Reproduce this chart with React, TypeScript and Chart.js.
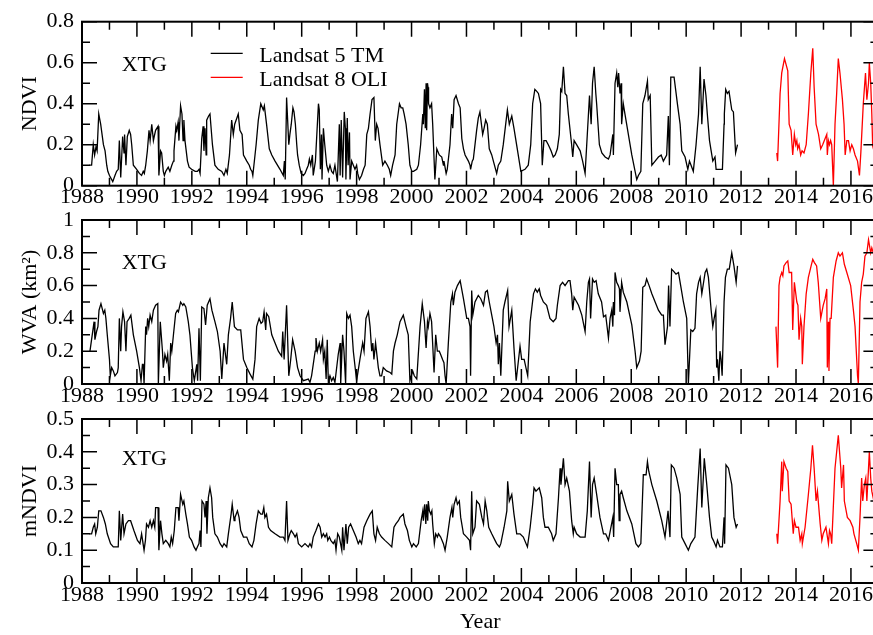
import React, { useEffect, useRef } from 'react';
import { Chart, registerables } from 'chart.js';

Chart.register(...registerables);

const YEAR_MIN = 1988;
const YEAR_MAX = 2017;
const FONT = "'Liberation Serif', 'Times New Roman', serif";
const TM_COLOR = '#000000';
const OLI_COLOR = '#ff0000';

// [decimal year, value] — Landsat 5 TM NDVI
const ndviTm: [number, number][] = [
  [1988.27, 0.10], [1988.35, 0.10], [1988.41, 0.20], [1988.46, 0.15], [1988.51, 0.19], [1988.55, 0.17],
  [1988.61, 0.35], [1988.68, 0.30], [1988.78, 0.20], [1988.84, 0.17], [1988.90, 0.10], [1988.94, 0.07],
  [1989.00, 0.05], [1989.12, 0.02], [1989.20, 0.05], [1989.26, 0.07], [1989.32, 0.08], [1989.36, 0.22],
  [1989.41, 0.04], [1989.48, 0.24], [1989.53, 0.16], [1989.55, 0.25], [1989.60, 0.10], [1989.65, 0.24],
  [1989.72, 0.27], [1989.77, 0.25], [1989.81, 0.20], [1989.87, 0.10], [1989.99, 0.08], [1990.09, 0.06],
  [1990.17, 0.05], [1990.23, 0.07], [1990.27, 0.06], [1990.32, 0.10], [1990.38, 0.17], [1990.44, 0.27],
  [1990.48, 0.22], [1990.54, 0.30], [1990.60, 0.22], [1990.63, 0.24], [1990.68, 0.27], [1990.77, 0.29],
  [1990.80, 0.05], [1990.86, 0.17], [1990.90, 0.16], [1990.96, 0.07], [1991.00, 0.05], [1991.05, 0.07],
  [1991.14, 0.09], [1991.20, 0.07], [1991.27, 0.10], [1991.33, 0.12], [1991.35, 0.17], [1991.42, 0.29],
  [1991.45, 0.27], [1991.50, 0.31], [1991.53, 0.22], [1991.59, 0.39], [1991.64, 0.35], [1991.68, 0.22],
  [1991.71, 0.32], [1991.75, 0.22], [1991.84, 0.12], [1991.90, 0.09], [1991.99, 0.08], [1992.12, 0.07],
  [1992.20, 0.07], [1992.26, 0.08], [1992.30, 0.06], [1992.36, 0.23], [1992.41, 0.29], [1992.44, 0.17],
  [1992.48, 0.28], [1992.52, 0.15], [1992.54, 0.32], [1992.61, 0.34], [1992.66, 0.35], [1992.75, 0.20],
  [1992.84, 0.10], [1992.96, 0.08], [1993.09, 0.07], [1993.17, 0.05], [1993.24, 0.08], [1993.29, 0.06],
  [1993.37, 0.15], [1993.45, 0.32], [1993.51, 0.25], [1993.56, 0.30], [1993.64, 0.33], [1993.69, 0.35],
  [1993.75, 0.27], [1993.83, 0.25], [1993.88, 0.15], [1994.00, 0.12], [1994.09, 0.10], [1994.14, 0.08],
  [1994.19, 0.07], [1994.22, 0.05], [1994.34, 0.20], [1994.42, 0.32], [1994.51, 0.40], [1994.57, 0.38],
  [1994.60, 0.37], [1994.64, 0.39], [1994.72, 0.30], [1994.82, 0.18], [1994.91, 0.15], [1995.03, 0.12],
  [1995.21, 0.08], [1995.33, 0.05], [1995.37, 0.12], [1995.40, 0.03], [1995.45, 0.43], [1995.53, 0.20],
  [1995.57, 0.25], [1995.62, 0.30], [1995.68, 0.38], [1995.72, 0.36], [1995.77, 0.30], [1995.82, 0.20],
  [1995.85, 0.15], [1995.91, 0.10], [1995.98, 0.06], [1996.06, 0.05], [1996.12, 0.06], [1996.18, 0.08],
  [1996.24, 0.10], [1996.28, 0.13], [1996.33, 0.10], [1996.39, 0.15], [1996.42, 0.05], [1996.50, 0.12],
  [1996.61, 0.40], [1996.64, 0.37], [1996.68, 0.08], [1996.72, 0.25], [1996.74, 0.03], [1996.79, 0.28],
  [1996.84, 0.20], [1996.91, 0.10], [1996.97, 0.07], [1997.03, 0.10], [1997.09, 0.07], [1997.15, 0.06],
  [1997.21, 0.10], [1997.30, 0.02], [1997.37, 0.30], [1997.40, 0.05], [1997.44, 0.32], [1997.49, 0.04],
  [1997.55, 0.36], [1997.59, 0.28], [1997.61, 0.03], [1997.66, 0.33], [1997.69, 0.10], [1997.74, 0.26],
  [1997.76, 0.03], [1997.82, 0.12], [1997.88, 0.10], [1997.94, 0.08], [1998.00, 0.10], [1998.04, 0.06],
  [1998.10, 0.03], [1998.18, 0.05], [1998.25, 0.08], [1998.31, 0.10], [1998.37, 0.25], [1998.43, 0.28],
  [1998.49, 0.35], [1998.56, 0.42], [1998.63, 0.43], [1998.68, 0.22], [1998.73, 0.30], [1998.78, 0.28],
  [1998.85, 0.20], [1998.95, 0.10], [1999.03, 0.12], [1999.12, 0.10], [1999.19, 0.08], [1999.24, 0.05],
  [1999.31, 0.10], [1999.40, 0.15], [1999.46, 0.30], [1999.56, 0.40], [1999.62, 0.38], [1999.68, 0.38],
  [1999.73, 0.35], [1999.80, 0.30], [1999.88, 0.20], [1999.94, 0.10], [2000.01, 0.07], [2000.07, 0.07],
  [2000.19, 0.08], [2000.25, 0.10], [2000.33, 0.20], [2000.41, 0.35], [2000.43, 0.30], [2000.47, 0.47],
  [2000.50, 0.28], [2000.53, 0.50], [2000.55, 0.27], [2000.58, 0.50], [2000.60, 0.48], [2000.62, 0.40],
  [2000.67, 0.38], [2000.73, 0.40], [2000.77, 0.30], [2000.85, 0.03], [2000.92, 0.18], [2001.01, 0.15],
  [2001.10, 0.14], [2001.16, 0.10], [2001.18, 0.12], [2001.26, 0.06], [2001.30, 0.08], [2001.40, 0.20],
  [2001.46, 0.35], [2001.50, 0.28], [2001.55, 0.42], [2001.62, 0.44], [2001.71, 0.40], [2001.77, 0.38],
  [2001.83, 0.23], [2001.89, 0.18], [2001.95, 0.15], [2002.07, 0.12], [2002.13, 0.10], [2002.15, 0.08],
  [2002.21, 0.12], [2002.25, 0.13], [2002.37, 0.27], [2002.43, 0.33], [2002.49, 0.36], [2002.59, 0.25],
  [2002.64, 0.28], [2002.70, 0.32], [2002.76, 0.30], [2002.83, 0.18], [2002.92, 0.15], [2002.98, 0.12],
  [2003.10, 0.06], [2003.16, 0.10], [2003.25, 0.12], [2003.34, 0.20], [2003.49, 0.37], [2003.56, 0.30],
  [2003.65, 0.34], [2003.73, 0.28], [2003.85, 0.18], [2003.98, 0.07], [2004.13, 0.08], [2004.25, 0.10],
  [2004.34, 0.20], [2004.41, 0.40], [2004.49, 0.47], [2004.56, 0.46], [2004.62, 0.45], [2004.70, 0.40],
  [2004.76, 0.10], [2004.82, 0.22], [2004.90, 0.22], [2004.98, 0.20], [2005.08, 0.17], [2005.16, 0.14],
  [2005.23, 0.15], [2005.31, 0.18], [2005.38, 0.25], [2005.43, 0.47], [2005.47, 0.46], [2005.53, 0.58],
  [2005.59, 0.45], [2005.65, 0.44], [2005.71, 0.35], [2005.83, 0.20], [2005.87, 0.14], [2005.92, 0.22],
  [2006.01, 0.20], [2006.14, 0.17], [2006.23, 0.12], [2006.32, 0.06], [2006.40, 0.25], [2006.48, 0.44],
  [2006.54, 0.30], [2006.59, 0.50], [2006.65, 0.58], [2006.71, 0.45], [2006.74, 0.40], [2006.84, 0.20],
  [2006.93, 0.16], [2007.05, 0.14], [2007.17, 0.13], [2007.23, 0.15], [2007.33, 0.25], [2007.35, 0.15],
  [2007.41, 0.50], [2007.47, 0.55], [2007.51, 0.48], [2007.54, 0.55], [2007.59, 0.45], [2007.63, 0.50],
  [2007.65, 0.30], [2007.71, 0.40], [2007.77, 0.35], [2008.02, 0.15], [2008.20, 0.03], [2008.26, 0.05],
  [2008.35, 0.07], [2008.42, 0.40], [2008.50, 0.44], [2008.59, 0.51], [2008.62, 0.42], [2008.69, 0.44],
  [2008.75, 0.10], [2008.87, 0.12], [2008.99, 0.14], [2009.09, 0.15], [2009.17, 0.12], [2009.29, 0.15],
  [2009.35, 0.34], [2009.39, 0.10], [2009.44, 0.53], [2009.56, 0.53], [2009.68, 0.40], [2009.78, 0.30],
  [2009.84, 0.17], [2009.96, 0.14], [2010.06, 0.08], [2010.12, 0.12], [2010.26, 0.07], [2010.36, 0.20],
  [2010.45, 0.35], [2010.51, 0.58], [2010.57, 0.30], [2010.65, 0.52], [2010.72, 0.44], [2010.77, 0.35],
  [2010.85, 0.22], [2010.91, 0.17], [2010.97, 0.12], [2011.05, 0.14], [2011.09, 0.08], [2011.23, 0.08],
  [2011.32, 0.08], [2011.38, 0.30], [2011.39, 0.35], [2011.44, 0.47], [2011.50, 0.45], [2011.56, 0.46],
  [2011.66, 0.37], [2011.72, 0.36], [2011.80, 0.16], [2011.87, 0.20],
];

// Landsat 8 OLI NDVI
const ndviOli: [number, number][] = [
  [2013.30, 0.16], [2013.33, 0.12], [2013.42, 0.45], [2013.48, 0.55], [2013.58, 0.62], [2013.70, 0.56],
  [2013.75, 0.30], [2013.82, 0.27], [2013.88, 0.15], [2013.94, 0.25], [2013.99, 0.20], [2014.03, 0.22],
  [2014.06, 0.18], [2014.11, 0.20], [2014.17, 0.15], [2014.22, 0.17], [2014.29, 0.16], [2014.37, 0.20],
  [2014.45, 0.35], [2014.54, 0.55], [2014.61, 0.67], [2014.66, 0.48], [2014.73, 0.30], [2014.82, 0.25],
  [2014.90, 0.18], [2014.97, 0.20], [2015.06, 0.23], [2015.12, 0.25], [2015.14, 0.15], [2015.18, 0.22],
  [2015.22, 0.20], [2015.26, 0.22], [2015.30, 0.20], [2015.36, 0.00], [2015.42, 0.30], [2015.48, 0.45],
  [2015.54, 0.62], [2015.60, 0.55], [2015.69, 0.42], [2015.75, 0.30], [2015.79, 0.15], [2015.85, 0.22],
  [2015.91, 0.22], [2015.97, 0.17], [2016.03, 0.20], [2016.09, 0.18], [2016.15, 0.15], [2016.24, 0.12],
  [2016.31, 0.05], [2016.36, 0.16], [2016.45, 0.40], [2016.53, 0.55], [2016.58, 0.42], [2016.64, 0.50],
  [2016.67, 0.60], [2016.72, 0.50], [2016.76, 0.35], [2016.79, 0.20], [2016.86, 0.24],
];

// Landsat 5 TM water-vegetation area (km²)
const wvaTm: [number, number][] = [
  [1988.29, 0.20], [1988.44, 0.38], [1988.47, 0.27], [1988.53, 0.32], [1988.58, 0.35], [1988.62, 0.45],
  [1988.69, 0.49], [1988.78, 0.43], [1988.83, 0.45], [1988.87, 0.40], [1988.92, 0.30], [1989.00, 0.15],
  [1989.03, 0.05], [1989.08, 0.10], [1989.14, 0.08], [1989.20, 0.05], [1989.29, 0.07], [1989.32, 0.10],
  [1989.36, 0.40], [1989.41, 0.20], [1989.44, 0.35], [1989.49, 0.44], [1989.55, 0.38], [1989.60, 0.20],
  [1989.64, 0.38], [1989.72, 0.40], [1989.78, 0.42], [1989.87, 0.30], [1989.99, 0.20], [1990.09, 0.10],
  [1990.15, 0.02], [1990.20, 0.12], [1990.23, 0.12], [1990.26, 0.00], [1990.32, 0.35], [1990.35, 0.30],
  [1990.39, 0.40], [1990.43, 0.35], [1990.48, 0.42], [1990.54, 0.38], [1990.60, 0.45], [1990.68, 0.48],
  [1990.76, 0.49], [1990.78, 0.00], [1990.85, 0.38], [1990.93, 0.20], [1990.96, 0.10], [1991.02, 0.18],
  [1991.08, 0.14], [1991.12, 0.18], [1991.18, 0.02], [1991.23, 0.25], [1991.27, 0.20], [1991.33, 0.30],
  [1991.41, 0.43], [1991.47, 0.45], [1991.51, 0.44], [1991.59, 0.50], [1991.67, 0.48], [1991.71, 0.49],
  [1991.78, 0.47], [1991.87, 0.38], [1991.93, 0.30], [1992.02, 0.10], [1992.09, 0.02], [1992.18, 0.12],
  [1992.21, 0.02], [1992.26, 0.34], [1992.31, 0.02], [1992.36, 0.47], [1992.44, 0.46], [1992.50, 0.36],
  [1992.56, 0.48], [1992.66, 0.52], [1992.73, 0.45], [1992.84, 0.38], [1992.93, 0.32], [1993.03, 0.20],
  [1993.09, 0.03], [1993.17, 0.25], [1993.27, 0.12], [1993.33, 0.30], [1993.41, 0.40], [1993.47, 0.50],
  [1993.55, 0.35], [1993.66, 0.33], [1993.78, 0.33], [1993.88, 0.15], [1994.00, 0.10], [1994.12, 0.06],
  [1994.22, 0.03], [1994.30, 0.15], [1994.36, 0.35], [1994.45, 0.40], [1994.52, 0.37], [1994.58, 0.38],
  [1994.63, 0.44], [1994.69, 0.33], [1994.72, 0.43], [1994.80, 0.41], [1994.91, 0.30], [1995.03, 0.25],
  [1995.15, 0.20], [1995.27, 0.17], [1995.31, 0.32], [1995.36, 0.15], [1995.45, 0.48], [1995.53, 0.05],
  [1995.60, 0.15], [1995.67, 0.27], [1995.76, 0.20], [1995.85, 0.10], [1995.94, 0.05], [1996.06, 0.02],
  [1996.24, 0.03], [1996.30, 0.01], [1996.36, 0.05], [1996.49, 0.20], [1996.52, 0.28], [1996.57, 0.20],
  [1996.64, 0.25], [1996.69, 0.20], [1996.76, 0.27], [1996.79, 0.15], [1996.84, 0.20], [1996.89, 0.03],
  [1996.93, 0.27], [1996.97, 0.01], [1997.03, 0.05], [1997.09, 0.02], [1997.15, 0.04], [1997.21, 0.01],
  [1997.33, 0.18], [1997.40, 0.25], [1997.42, 0.00], [1997.49, 0.30], [1997.54, 0.20], [1997.60, 0.00],
  [1997.64, 0.43], [1997.70, 0.40], [1997.76, 0.42], [1997.82, 0.35], [1997.88, 0.20], [1998.00, 0.02],
  [1998.12, 0.15], [1998.22, 0.25], [1998.27, 0.20], [1998.34, 0.40], [1998.43, 0.44], [1998.49, 0.35],
  [1998.55, 0.20], [1998.59, 0.25], [1998.63, 0.15], [1998.69, 0.25], [1998.79, 0.10], [1998.85, 0.05],
  [1998.91, 0.05], [1998.97, 0.10], [1999.09, 0.08], [1999.22, 0.07], [1999.28, 0.06], [1999.34, 0.20],
  [1999.40, 0.25], [1999.48, 0.30], [1999.58, 0.38], [1999.70, 0.42], [1999.80, 0.35], [1999.88, 0.30],
  [1999.94, 0.02], [2000.04, 0.08], [2000.10, 0.05], [2000.19, 0.03], [2000.31, 0.35], [2000.39, 0.49],
  [2000.47, 0.38], [2000.53, 0.22], [2000.58, 0.38], [2000.61, 0.35], [2000.67, 0.43], [2000.73, 0.38],
  [2000.82, 0.07], [2000.88, 0.30], [2000.94, 0.20], [2001.01, 0.20], [2001.06, 0.18], [2001.13, 0.15],
  [2001.18, 0.13], [2001.22, 0.05], [2001.26, 0.00], [2001.34, 0.25], [2001.43, 0.50], [2001.49, 0.55],
  [2001.52, 0.48], [2001.58, 0.56], [2001.67, 0.60], [2001.77, 0.63], [2001.89, 0.52], [2002.01, 0.40],
  [2002.07, 0.40], [2002.13, 0.35], [2002.15, 0.05], [2002.19, 0.57], [2002.23, 0.42], [2002.31, 0.50],
  [2002.43, 0.54], [2002.52, 0.52], [2002.62, 0.48], [2002.69, 0.56], [2002.76, 0.57], [2002.83, 0.50],
  [2002.92, 0.42], [2003.00, 0.35], [2003.08, 0.25], [2003.13, 0.30], [2003.16, 0.12], [2003.20, 0.25],
  [2003.25, 0.05], [2003.34, 0.45], [2003.40, 0.50], [2003.50, 0.57], [2003.55, 0.35], [2003.65, 0.45],
  [2003.73, 0.22], [2003.81, 0.02], [2003.95, 0.23], [2004.01, 0.15], [2004.10, 0.15], [2004.23, 0.05],
  [2004.32, 0.38], [2004.44, 0.55], [2004.51, 0.58], [2004.58, 0.56], [2004.65, 0.58], [2004.70, 0.54],
  [2004.80, 0.50], [2004.92, 0.48], [2005.04, 0.40], [2005.16, 0.38], [2005.26, 0.40], [2005.31, 0.48],
  [2005.41, 0.60], [2005.50, 0.62], [2005.59, 0.60], [2005.71, 0.63], [2005.77, 0.63], [2005.83, 0.55],
  [2005.87, 0.45], [2005.92, 0.53], [2006.08, 0.48], [2006.20, 0.42], [2006.32, 0.32], [2006.38, 0.50],
  [2006.44, 0.62], [2006.48, 0.64], [2006.52, 0.40], [2006.59, 0.64], [2006.65, 0.62], [2006.72, 0.63],
  [2006.80, 0.55], [2006.92, 0.50], [2006.99, 0.41], [2007.07, 0.42], [2007.17, 0.28], [2007.23, 0.40],
  [2007.29, 0.45], [2007.33, 0.35], [2007.35, 0.50], [2007.39, 0.42], [2007.41, 0.68], [2007.47, 0.62],
  [2007.53, 0.60], [2007.57, 0.58], [2007.59, 0.44], [2007.65, 0.62], [2007.71, 0.56], [2007.84, 0.50],
  [2008.02, 0.36], [2008.14, 0.20], [2008.20, 0.10], [2008.30, 0.14], [2008.36, 0.20], [2008.42, 0.59],
  [2008.50, 0.60], [2008.56, 0.64], [2008.65, 0.60], [2008.75, 0.55], [2008.87, 0.50], [2008.99, 0.45],
  [2009.11, 0.42], [2009.17, 0.42], [2009.23, 0.24], [2009.32, 0.35], [2009.36, 0.60], [2009.41, 0.35],
  [2009.47, 0.70], [2009.53, 0.69], [2009.63, 0.67], [2009.72, 0.68], [2009.80, 0.60], [2009.90, 0.50],
  [2010.02, 0.40], [2010.08, 0.00], [2010.17, 0.33], [2010.24, 0.32], [2010.32, 0.34], [2010.38, 0.55],
  [2010.45, 0.62], [2010.51, 0.65], [2010.57, 0.55], [2010.69, 0.68], [2010.75, 0.70], [2010.81, 0.65],
  [2010.87, 0.53], [2010.91, 0.45], [2010.97, 0.35], [2011.02, 0.40], [2011.08, 0.45], [2011.11, 0.10],
  [2011.14, 0.15], [2011.19, 0.02], [2011.23, 0.20], [2011.27, 0.15], [2011.31, 0.05], [2011.38, 0.50],
  [2011.43, 0.65], [2011.50, 0.70], [2011.57, 0.70], [2011.66, 0.80], [2011.74, 0.72], [2011.82, 0.62],
  [2011.87, 0.72],
];

// Landsat 8 OLI water-vegetation area (km²)
const wvaOli: [number, number][] = [
  [2013.27, 0.35], [2013.33, 0.10], [2013.38, 0.60], [2013.42, 0.65], [2013.48, 0.68], [2013.52, 0.66],
  [2013.56, 0.72], [2013.64, 0.74], [2013.70, 0.75], [2013.75, 0.68], [2013.84, 0.68], [2013.88, 0.33],
  [2013.94, 0.62], [2014.03, 0.50], [2014.07, 0.48], [2014.11, 0.27], [2014.17, 0.40], [2014.21, 0.35],
  [2014.23, 0.12], [2014.29, 0.35], [2014.37, 0.55], [2014.45, 0.65], [2014.55, 0.72], [2014.61, 0.76],
  [2014.67, 0.74], [2014.75, 0.72], [2014.81, 0.62], [2014.90, 0.40], [2014.99, 0.48], [2015.06, 0.52],
  [2015.12, 0.58], [2015.14, 0.10], [2015.18, 0.38], [2015.20, 0.08], [2015.24, 0.40], [2015.28, 0.40],
  [2015.36, 0.65], [2015.46, 0.75], [2015.54, 0.80], [2015.60, 0.78], [2015.69, 0.80], [2015.76, 0.73],
  [2015.85, 0.68], [2015.99, 0.60], [2016.09, 0.45], [2016.15, 0.35], [2016.24, 0.05], [2016.27, 0.00],
  [2016.33, 0.50], [2016.39, 0.62], [2016.45, 0.67], [2016.51, 0.78], [2016.58, 0.80], [2016.64, 0.88],
  [2016.67, 0.85], [2016.72, 0.80], [2016.76, 0.83], [2016.88, 0.76],
];

// Landsat 5 TM mean NDVI
const mndviTm: [number, number][] = [
  [1988.27, 0.15], [1988.35, 0.15], [1988.41, 0.17], [1988.46, 0.18], [1988.50, 0.15], [1988.56, 0.17],
  [1988.61, 0.22], [1988.69, 0.22], [1988.78, 0.20], [1988.85, 0.18], [1988.92, 0.15], [1989.04, 0.12],
  [1989.14, 0.11], [1989.32, 0.11], [1989.36, 0.22], [1989.41, 0.13], [1989.48, 0.21], [1989.53, 0.15],
  [1989.60, 0.18], [1989.69, 0.19], [1989.77, 0.19], [1989.89, 0.16], [1990.02, 0.13], [1990.11, 0.12],
  [1990.17, 0.15], [1990.26, 0.10], [1990.31, 0.13], [1990.35, 0.18], [1990.42, 0.17], [1990.48, 0.19],
  [1990.54, 0.17], [1990.60, 0.19], [1990.65, 0.17], [1990.68, 0.23], [1990.77, 0.23], [1990.80, 0.10],
  [1990.86, 0.19], [1990.91, 0.15], [1990.96, 0.12], [1991.05, 0.13], [1991.14, 0.12], [1991.20, 0.11],
  [1991.25, 0.14], [1991.30, 0.12], [1991.36, 0.16], [1991.42, 0.23], [1991.50, 0.23], [1991.53, 0.19],
  [1991.59, 0.27], [1991.67, 0.24], [1991.71, 0.25], [1991.78, 0.21], [1991.84, 0.18], [1991.91, 0.14],
  [1991.99, 0.13], [1992.08, 0.11], [1992.15, 0.10], [1992.20, 0.11], [1992.26, 0.12], [1992.30, 0.16],
  [1992.33, 0.11], [1992.37, 0.25], [1992.44, 0.24], [1992.48, 0.20], [1992.52, 0.25], [1992.55, 0.15],
  [1992.60, 0.26], [1992.66, 0.29], [1992.72, 0.26], [1992.76, 0.20], [1992.84, 0.15], [1992.93, 0.14],
  [1993.03, 0.12], [1993.11, 0.11], [1993.17, 0.12], [1993.27, 0.11], [1993.33, 0.15], [1993.43, 0.21],
  [1993.47, 0.24], [1993.54, 0.19], [1993.57, 0.20], [1993.66, 0.22], [1993.72, 0.20], [1993.78, 0.16],
  [1993.88, 0.14], [1994.00, 0.14], [1994.09, 0.12], [1994.19, 0.11], [1994.26, 0.13], [1994.34, 0.18],
  [1994.42, 0.22], [1994.51, 0.21], [1994.57, 0.21], [1994.62, 0.23], [1994.66, 0.20], [1994.72, 0.21],
  [1994.79, 0.17], [1994.87, 0.16], [1995.03, 0.15], [1995.21, 0.14], [1995.33, 0.14], [1995.39, 0.13],
  [1995.45, 0.25], [1995.50, 0.13], [1995.57, 0.15], [1995.62, 0.16], [1995.70, 0.15], [1995.76, 0.14],
  [1995.82, 0.15], [1995.88, 0.12], [1996.00, 0.11], [1996.12, 0.12], [1996.24, 0.11], [1996.30, 0.12],
  [1996.36, 0.11], [1996.42, 0.14], [1996.52, 0.16], [1996.61, 0.18], [1996.67, 0.17], [1996.73, 0.14],
  [1996.79, 0.15], [1996.85, 0.14], [1996.91, 0.15], [1996.95, 0.13], [1997.01, 0.14], [1997.06, 0.13],
  [1997.15, 0.12], [1997.21, 0.13], [1997.25, 0.10], [1997.31, 0.15], [1997.37, 0.14], [1997.46, 0.10],
  [1997.49, 0.17], [1997.54, 0.10], [1997.61, 0.18], [1997.66, 0.12], [1997.71, 0.17], [1997.78, 0.18],
  [1997.88, 0.16], [1997.98, 0.14], [1998.06, 0.12], [1998.12, 0.13], [1998.18, 0.12], [1998.27, 0.17],
  [1998.37, 0.19], [1998.49, 0.21], [1998.57, 0.22], [1998.63, 0.15], [1998.69, 0.13], [1998.75, 0.17],
  [1998.83, 0.15], [1998.91, 0.14], [1999.03, 0.13], [1999.16, 0.12], [1999.28, 0.11], [1999.36, 0.17],
  [1999.43, 0.18], [1999.52, 0.19], [1999.58, 0.20], [1999.70, 0.21], [1999.76, 0.18], [1999.85, 0.16],
  [1999.92, 0.13], [2000.01, 0.11], [2000.07, 0.12], [2000.17, 0.11], [2000.25, 0.12], [2000.35, 0.19],
  [2000.41, 0.22], [2000.43, 0.19], [2000.48, 0.24], [2000.52, 0.18], [2000.55, 0.24], [2000.59, 0.19],
  [2000.61, 0.25], [2000.65, 0.22], [2000.70, 0.21], [2000.74, 0.22], [2000.77, 0.18], [2000.83, 0.12],
  [2000.88, 0.15], [2000.94, 0.14], [2000.98, 0.15], [2001.06, 0.14], [2001.16, 0.12], [2001.22, 0.10],
  [2001.30, 0.14], [2001.40, 0.20], [2001.47, 0.23], [2001.50, 0.20], [2001.55, 0.24], [2001.62, 0.26],
  [2001.67, 0.24], [2001.74, 0.25], [2001.79, 0.20], [2001.89, 0.15], [2002.01, 0.14], [2002.11, 0.13],
  [2002.15, 0.10], [2002.19, 0.28], [2002.23, 0.15], [2002.31, 0.17], [2002.37, 0.25], [2002.47, 0.24],
  [2002.56, 0.20], [2002.62, 0.18], [2002.68, 0.25], [2002.74, 0.22], [2002.81, 0.17], [2002.92, 0.15],
  [2003.04, 0.13], [2003.10, 0.12], [2003.20, 0.11], [2003.25, 0.12], [2003.37, 0.17], [2003.47, 0.22],
  [2003.50, 0.31], [2003.56, 0.25], [2003.65, 0.27], [2003.73, 0.21], [2003.83, 0.15], [2003.95, 0.15],
  [2004.07, 0.14], [2004.22, 0.11], [2004.32, 0.17], [2004.41, 0.24], [2004.46, 0.29], [2004.53, 0.28],
  [2004.65, 0.29], [2004.74, 0.26], [2004.80, 0.20], [2004.86, 0.17], [2004.98, 0.17], [2005.10, 0.15],
  [2005.16, 0.13], [2005.26, 0.15], [2005.35, 0.26], [2005.41, 0.35], [2005.44, 0.30], [2005.53, 0.38],
  [2005.59, 0.30], [2005.65, 0.32], [2005.75, 0.28], [2005.83, 0.19], [2005.89, 0.15], [2005.92, 0.17],
  [2006.01, 0.15], [2006.14, 0.14], [2006.32, 0.14], [2006.40, 0.22], [2006.48, 0.37], [2006.54, 0.20],
  [2006.59, 0.30], [2006.65, 0.32], [2006.74, 0.27], [2006.86, 0.20], [2006.99, 0.15], [2007.07, 0.15],
  [2007.17, 0.13], [2007.33, 0.20], [2007.36, 0.14], [2007.41, 0.35], [2007.47, 0.30], [2007.53, 0.30],
  [2007.56, 0.19], [2007.59, 0.27], [2007.65, 0.28], [2007.71, 0.26], [2007.84, 0.22], [2008.02, 0.18],
  [2008.17, 0.12], [2008.26, 0.11], [2008.35, 0.12], [2008.44, 0.33], [2008.54, 0.33], [2008.59, 0.37],
  [2008.64, 0.34], [2008.75, 0.30], [2008.93, 0.25], [2009.11, 0.19], [2009.23, 0.14], [2009.34, 0.22],
  [2009.41, 0.14], [2009.46, 0.36], [2009.56, 0.35], [2009.66, 0.32], [2009.78, 0.27], [2009.84, 0.14],
  [2009.96, 0.12], [2010.08, 0.10], [2010.17, 0.12], [2010.32, 0.14], [2010.42, 0.29], [2010.51, 0.41],
  [2010.57, 0.23], [2010.66, 0.38], [2010.75, 0.30], [2010.85, 0.20], [2010.93, 0.14], [2010.99, 0.13],
  [2011.09, 0.11], [2011.14, 0.13], [2011.23, 0.11], [2011.32, 0.11], [2011.38, 0.20], [2011.40, 0.12],
  [2011.45, 0.36], [2011.54, 0.35], [2011.66, 0.30], [2011.74, 0.20], [2011.82, 0.17], [2011.87, 0.18],
];

// Landsat 8 OLI mean NDVI
const mndviOli: [number, number][] = [
  [2013.30, 0.15], [2013.33, 0.12], [2013.42, 0.25], [2013.48, 0.37], [2013.50, 0.28], [2013.56, 0.37],
  [2013.64, 0.35], [2013.70, 0.34], [2013.75, 0.25], [2013.82, 0.24], [2013.90, 0.15], [2013.94, 0.19],
  [2014.00, 0.17], [2014.09, 0.17], [2014.15, 0.13], [2014.21, 0.15], [2014.23, 0.12], [2014.33, 0.17],
  [2014.45, 0.27], [2014.54, 0.35], [2014.60, 0.42], [2014.66, 0.35], [2014.73, 0.25], [2014.78, 0.28],
  [2014.88, 0.18], [2014.94, 0.13], [2014.99, 0.15], [2015.09, 0.17], [2015.18, 0.12], [2015.22, 0.16],
  [2015.26, 0.15], [2015.30, 0.12], [2015.42, 0.35], [2015.48, 0.40], [2015.54, 0.45], [2015.63, 0.35],
  [2015.66, 0.29], [2015.73, 0.36], [2015.76, 0.25], [2015.87, 0.20], [2015.97, 0.19], [2016.07, 0.17],
  [2016.11, 0.15], [2016.21, 0.12], [2016.27, 0.10], [2016.33, 0.20], [2016.39, 0.32], [2016.43, 0.25],
  [2016.49, 0.30], [2016.54, 0.32], [2016.58, 0.25], [2016.67, 0.40], [2016.72, 0.32], [2016.76, 0.28],
  [2016.86, 0.24],
];

type Series = [number, number][];

interface PanelSpec {
  top: number;
  height: number;
  padTop: number;
  plotH: number;
  xAxisH: number;
  yMax: number;
  major: number;
  minor: number;
  yTitle: string;
  xTitle?: string;
  tm: Series;
  oli: Series;
  legend: boolean;
  siteDy: number;
}

const CANVAS_W = 890;
const PAD_RIGHT = 11.6;

const panels: PanelSpec[] = [
  { top: 0, height: 216, padTop: 21.7, plotH: 164, xAxisH: 30, yMax: 0.8, major: 0.2, minor: 0.1,
    yTitle: 'NDVI', tm: ndviTm, oli: ndviOli, legend: true, siteDy: 48.8 },
  { top: 200, height: 214, padTop: 20, plotH: 164, xAxisH: 30, yMax: 1, major: 0.2, minor: 0.1,
    yTitle: 'WVA (km²)', tm: wvaTm, oli: wvaOli, legend: false, siteDy: 48.5 },
  { top: 400, height: 235, padTop: 17, plotH: 166, xAxisH: 52, yMax: 0.5, major: 0.1, minor: 0.05,
    yTitle: 'mNDVI', xTitle: 'Year', tm: mndviTm, oli: mndviOli, legend: false, siteDy: 46 },
];

// Frame, inward major/minor ticks on all four sides, site label and legend
const panelDecor = {
  id: 'panelDecor',
  afterDatasetsDraw(chart: any, _args: any, o: any) {
    const { ctx, chartArea: a } = chart;
    const xs = chart.scales.x;
    const ys = chart.scales.y;
    ctx.save();
    ctx.strokeStyle = '#000';
    ctx.lineWidth = 1.5;
    ctx.beginPath();
    for (let yr = YEAR_MIN; yr <= YEAR_MAX; yr++) {
      const px = xs.getPixelForValue(yr);
      const len = yr % 2 === 0 ? 15 : 8;
      ctx.moveTo(px, a.bottom);
      ctx.lineTo(px, a.bottom - len);
      ctx.moveTo(px, a.top);
      ctx.lineTo(px, a.top + len);
    }
    const n = Math.round(o.yMax / o.minor);
    const every = Math.round(o.major / o.minor);
    for (let i = 0; i <= n; i++) {
      const py = ys.getPixelForValue(i * o.minor);
      const len = i % every === 0 ? 15 : 8;
      ctx.moveTo(a.left, py);
      ctx.lineTo(a.left + len, py);
      ctx.moveTo(a.right, py);
      ctx.lineTo(a.right - len, py);
    }
    ctx.stroke();
    ctx.lineWidth = 2;
    ctx.strokeRect(a.left, a.top, a.right - a.left, a.bottom - a.top);

    ctx.fillStyle = '#000';
    ctx.font = `22px ${FONT}`;
    ctx.textAlign = 'left';
    ctx.textBaseline = 'alphabetic';
    ctx.fillText('XTG', a.left + 39.7, a.top + o.siteDy);

    if (o.legend) {
      const rows: [string, string][] = [['Landsat 5 TM', TM_COLOR], ['Landsat 8 OLI', OLI_COLOR]];
      rows.forEach(([label, color], k) => {
        const ly = a.top + 31.6 + k * 24;
        ctx.strokeStyle = color;
        ctx.lineWidth = 1.3;
        ctx.beginPath();
        ctx.moveTo(a.left + 128.7, ly);
        ctx.lineTo(a.left + 160.7, ly);
        ctx.stroke();
        ctx.fillStyle = '#000';
        ctx.fillText(label, a.left + 177.3, ly + 8.2);
      });
    }
    ctx.restore();
  },
};

function makeConfig(p: PanelSpec): any {
  const line = (s: Series, color: string) => ({
    data: s.map(([x, y]) => ({ x, y })),
    borderColor: color,
    borderWidth: 1.3,
    pointRadius: 0,
    tension: 0,
    fill: false,
  });
  const font = { family: FONT, size: 22, lineHeight: 1 };
  return {
    type: 'line',
    data: { datasets: [line(p.tm, TM_COLOR), line(p.oli, OLI_COLOR)] },
    options: {
      responsive: false,
      animation: false,
      events: [],
      layout: {
        padding: {
          top: p.padTop,
          bottom: p.height - p.padTop - p.plotH - p.xAxisH,
          left: 0,
          right: PAD_RIGHT,
        },
      },
      plugins: {
        legend: { display: false },
        tooltip: { enabled: false },
        panelDecor: { yMax: p.yMax, major: p.major, minor: p.minor, legend: p.legend, siteDy: p.siteDy },
      },
      scales: {
        x: {
          type: 'linear',
          min: YEAR_MIN,
          max: YEAR_MAX,
          grid: { display: false, drawTicks: false },
          border: { display: false },
          ticks: {
            stepSize: 1,
            autoSkip: false,
            maxRotation: 0,
            padding: 1,
            color: '#000',
            font,
            callback: (v: number) => (v % 2 === 0 && v < YEAR_MAX ? String(v) : ''),
          },
          title: p.xTitle
            ? { display: true, text: p.xTitle, color: '#000', font: { family: FONT, size: 22 }, padding: 0 }
            : { display: false },
          afterFit: (s: any) => {
            s.height = p.xAxisH;
          },
        },
        y: {
          type: 'linear',
          min: 0,
          max: p.yMax,
          grid: { display: false, drawTicks: false },
          border: { display: false },
          ticks: {
            stepSize: p.major,
            padding: 8,
            color: '#000',
            font,
            callback: (v: number) => String(Number(v.toFixed(2))),
          },
          title: {
            display: true,
            text: p.yTitle,
            color: '#000',
            font: { family: FONT, size: 22 },
            padding: { top: 17, bottom: 0 },
          },
          afterFit: (s: any) => {
            s.width = 82;
          },
        },
      },
    },
    plugins: [panelDecor],
  };
}

export default function App() {
  const canvases = useRef<(HTMLCanvasElement | null)[]>([]);

  useEffect(() => {
    const charts = panels.map((p, i) => new Chart(canvases.current[i] as HTMLCanvasElement, makeConfig(p)));
    return () => charts.forEach((c) => c.destroy());
  }, []);

  return (
    <div
      style={{
        position: 'fixed',
        left: 0,
        top: 0,
        width: 873,
        height: 635,
        overflow: 'hidden',
        background: '#fff',
      }}
    >
      {panels.map((p, i) => (
        <canvas
          key={p.yTitle}
          ref={(el) => {
            canvases.current[i] = el;
          }}
          width={CANVAS_W}
          height={p.height}
          style={{ position: 'absolute', left: 0, top: p.top, width: CANVAS_W, height: p.height, display: 'block' }}
        />
      ))}
    </div>
  );
}
